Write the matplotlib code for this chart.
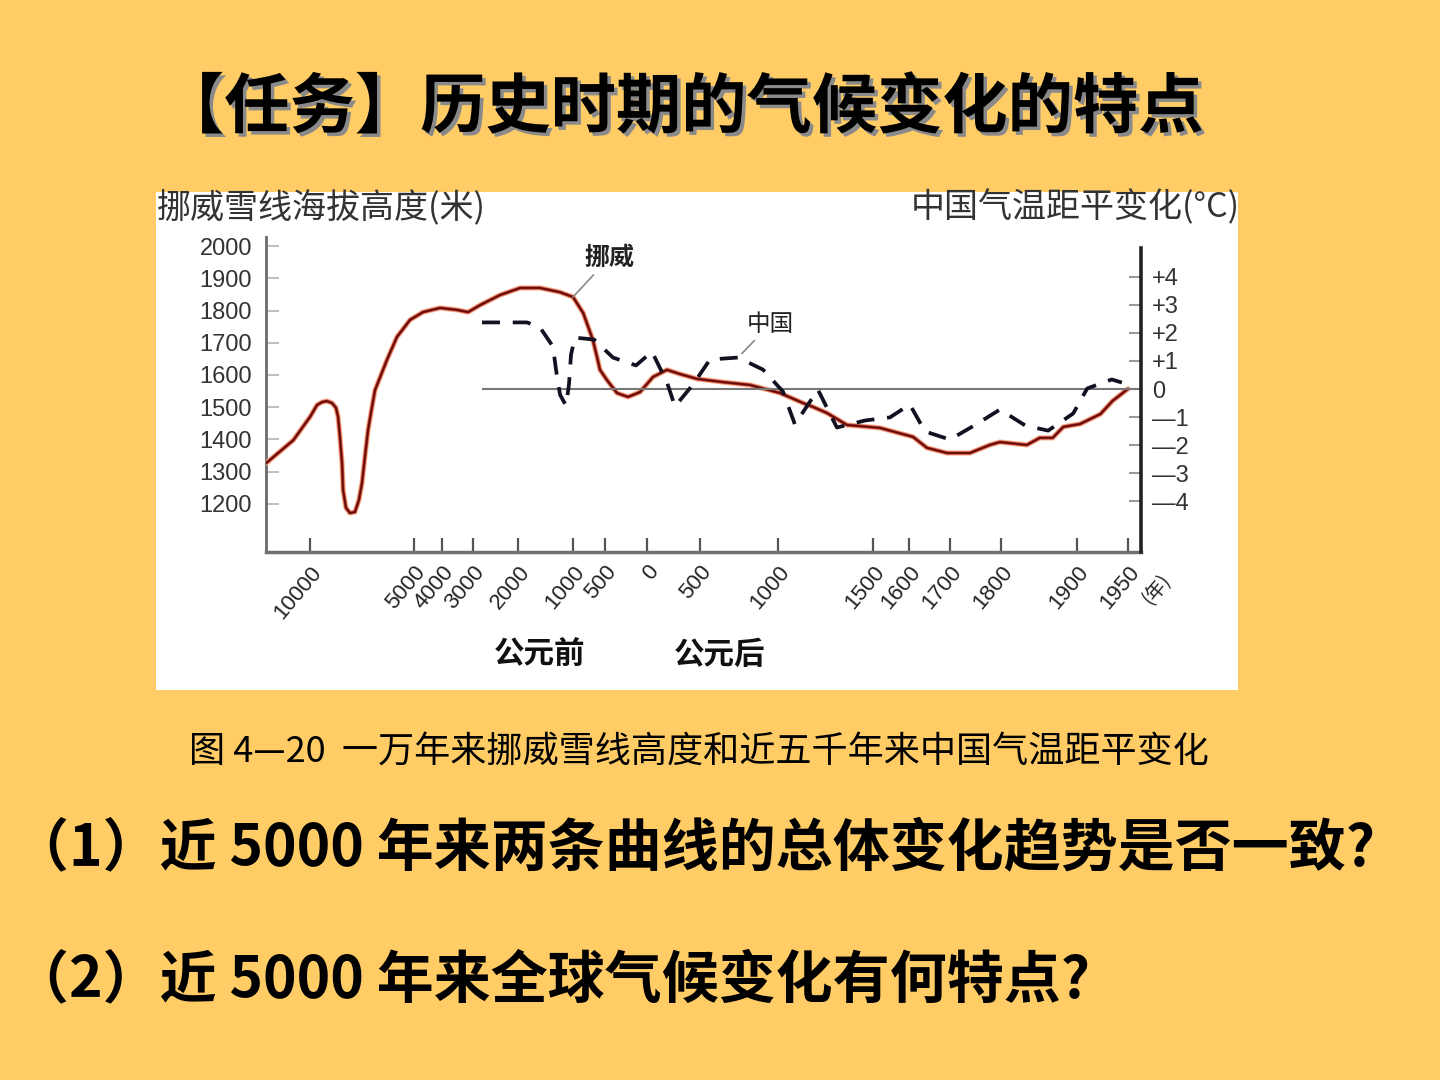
import numpy as np
import matplotlib
matplotlib.use('Agg')
import matplotlib.pyplot as plt
from matplotlib.patches import Rectangle
import matplotlib.patheffects as pe

CJK = ['Noto Sans CJK SC', 'DejaVu Sans']
NUM = ['Liberation Sans', 'Noto Sans CJK SC', 'DejaVu Sans']
plt.rcParams['font.family'] = CJK

# ---------------- data ----------------
NORWAY_YEARS = [-12100, -10800, -10000, -9660, -9420, -9180, -8940, -8750, -8650, -8560,
                -8460, -8410, -8270, -8080, -7840, -7650, -7500, -7360, -7210, -7020,
                -6875, -6300, -5820, -5190, -4680, -4070, -3520, -3160, -2840,
                -2400, -1960, -1600, -1240, -1000, -840, -690, -625, -578, -476,
                -357, -226, -83, 57, 189, 311, 472, 647, 821, 1011,
                1132, 1184, 1258, 1363, 1519, 1610, 1644, 1693, 1739, 1778,
                1798, 1834, 1851, 1868, 1882, 1903, 1923, 1935, 1950]
NORWAY_SNOWLINE_M = [1327, 1398, 1470, 1507, 1516, 1519, 1513, 1498, 1470, 1408,
                     1327, 1243, 1188, 1172, 1175, 1212, 1265, 1346, 1429, 1501,
                     1553, 1647, 1718, 1771, 1795, 1808, 1802, 1795, 1817,
                     1848, 1870, 1870, 1857, 1842, 1792, 1709, 1656, 1616, 1584,
                     1544, 1532, 1547, 1594, 1616, 1603, 1588, 1578, 1569, 1544,
                     1513, 1501, 1482, 1445, 1436, 1408, 1374, 1358, 1358, 1383,
                     1392, 1383, 1405, 1405, 1439, 1448, 1479, 1520, 1557]

CHINA_YEARS = [-2800, -1836, -1600, -1364, -1309, -1236, -1127, -1073, -1036, -969,
               -672, -405, -131, 47, 189, 264, 434, 564, 744, 904,
               1026, 1089, 1210, 1252, 1310, 1458, 1547, 1602, 1639, 1700,
               1751, 1798, 1832, 1862, 1895, 1910, 1934, 1944]
CHINA_ANOMALY_C = [2.37, 2.37, 2.19, 1.51, 0.69, -0.20, -0.59, 0.16, 1.23, 1.83,
                   1.76, 1.12, 0.84, 1.33, 0.23, -0.62, 0.16, 1.05, 1.12, 0.69,
                   -0.09, -1.26, -0.02, -0.59, -1.37, -1.12, -1.01, -0.55, -1.51, -1.80,
                   -1.26, -0.73, -1.30, -1.48, -0.87, 0.02, 0.34, 0.23]

X_TICK_YEARS = [-10000, -5000, -4000, -3000, -2000, -1000, -500, 0,
                500, 1000, 1500, 1600, 1700, 1800, 1900, 1950]
X_TICK_LABELS = ['10000', '5000', '4000', '3000', '2000', '1000', '500', '0',
                 '500', '1000', '1500', '1600', '1700', '1800', '1900', '1950']
LEFT_TICKS = [1200, 1300, 1400, 1500, 1600, 1700, 1800, 1900, 2000]
RIGHT_TICKS = [-4, -3, -2, -1, 0, 1, 2, 3, 4]
RIGHT_TICK_LABELS = ['—4', '—3', '—2', '—1', '0', '+1', '+2', '+3', '+4']
CHINA_START_YEAR = -2800

# ------------- warped time axis of the original drawing -------------
SCALE_YEARS = [-12115, -10000, -5000, -4000, -3000, -2000, -1000, -500, 0,
               500, 1000, 1500, 1600, 1700, 1800, 1900, 1950, 1963]
SCALE_UNITS = [0, 44, 148, 176, 207, 252, 307, 339, 381,
               434, 512, 607, 643, 684, 735, 811, 862, 875]


def fwd(x):
    return np.interp(x, SCALE_YEARS, SCALE_UNITS)


def inv(p):
    return np.interp(p, SCALE_UNITS, SCALE_YEARS)


BG = '#FFCC66'
W, H = 1440, 1080
fig = plt.figure(figsize=(14.4, 10.8), dpi=100, facecolor=BG)

# white picture panel (behind everything)
fig.patches.append(Rectangle((156 / W, 1 - 690 / H), 1082 / W, 498 / H,
                             transform=fig.transFigure, facecolor='white',
                             edgecolor='none', zorder=-5))

ax = fig.add_axes([266 / W, 1 - 552 / H, 875 / W, 315 / H])
ax.set_zorder(2)
ax.patch.set_visible(False)
ax.set_xscale('function', functions=(fwd, inv))
ax.set_xlim(SCALE_YEARS[0], SCALE_YEARS[-1])
ax.set_ylim(1051, 2028)

ax2 = ax.twinx()
ax2.set_zorder(3)
ax2.patch.set_visible(False)
ax2.set_ylim(-5.80, 5.41)

# spines
ax.spines['top'].set_visible(False)
ax2.spines['top'].set_visible(False)
ax2.spines['left'].set_visible(False)
ax2.spines['bottom'].set_visible(False)
ax.spines['right'].set_visible(False)
ax.spines['left'].set_color('#6a6a6a')
ax.spines['left'].set_linewidth(2.0)
ax.spines['bottom'].set_color('#707070')
ax.spines['bottom'].set_linewidth(2.5)
ax2.spines['right'].set_color('#222222')
ax2.spines['right'].set_linewidth(2.6)
ax2.spines['right'].set_bounds(-5.80, 5.02)

# ticks
ax.set_yticks(LEFT_TICKS)
ax.set_yticklabels([str(v) for v in LEFT_TICKS], family=NUM, fontsize=17, color='#333333')
ax.tick_params(axis='y', direction='in', length=9, width=1.3, color='#bbbbbb', pad=10)
ax.set_xticks(X_TICK_YEARS)
ax.set_xticklabels(X_TICK_LABELS, family=NUM, fontsize=16, color='#222222',
                   rotation=50, ha='right', va='top', rotation_mode='anchor')
ax.xaxis.set_minor_locator(matplotlib.ticker.NullLocator())
ax.tick_params(axis='x', direction='in', length=10, width=1.6, color='#555555', pad=7)

ax2.set_yticks(RIGHT_TICKS)
ax2.set_yticklabels(RIGHT_TICK_LABELS, family=NUM, fontsize=17, color='#333333')
ax2.tick_params(axis='y', direction='in', length=9, width=1.5, color='#999999', pad=8)

# zero reference line of the China series
ax2.hlines(0, CHINA_START_YEAR, SCALE_YEARS[-1], color='#777777', lw=1.5, zorder=2)

# Norway snow line (dark red core with light glow)
ax.plot(NORWAY_YEARS, NORWAY_SNOWLINE_M, color='#F4B898', lw=3.8,
        solid_joinstyle='round', solid_capstyle='round', zorder=3)
ax.plot(NORWAY_YEARS, NORWAY_SNOWLINE_M, color='#C63C2C', lw=2.4,
        solid_joinstyle='round', solid_capstyle='round', zorder=4)
ax.plot(NORWAY_YEARS, NORWAY_SNOWLINE_M, color='#5E0C0C', lw=1.3,
        solid_joinstyle='round', solid_capstyle='round', zorder=5)

# China temperature anomaly (dashed)
ax2.plot(CHINA_YEARS, CHINA_ANOMALY_C, color='#111122', lw=2.7,
         dashes=(4.8, 3.4), zorder=6)

# series labels with leader lines
i_nw = NORWAY_YEARS.index(-1000)
ax.annotate('挪威', xy=(NORWAY_YEARS[i_nw], NORWAY_SNOWLINE_M[i_nw]),
            xytext=(26, 28), textcoords='offset points', ha='center', va='center',
            fontsize=18, fontweight='bold', color='#222222',
            arrowprops=dict(arrowstyle='-', color='#888888', lw=1.2,
                            shrinkA=2, shrinkB=0), zorder=7)
i_cn = CHINA_YEARS.index(744)
ax2.annotate('中国', xy=(CHINA_YEARS[i_cn], CHINA_ANOMALY_C[i_cn]),
             xytext=(23, 24), textcoords='offset points', ha='center', va='center',
             fontsize=17, color='#222222',
             arrowprops=dict(arrowstyle='-', color='#888888', lw=1.2,
                             shrinkA=2, shrinkB=4), zorder=7)

# (年) after 1950
ax.annotate('(年)', xy=(X_TICK_YEARS[-1], 1051), xytext=(22, -13),
            textcoords='offset points', rotation=50, ha='right', va='top',
            rotation_mode='anchor', fontsize=14, color='#222222')

# axis titles
fig.text(157 / W, 1 - 208 / H, '挪威雪线海拔高度(米)', ha='left', va='center',
         fontsize=24.5, color='#333333')
fig.text(1240 / W, 1 - 208 / H, '中国气温距平变化(°C)', ha='right', va='center',
         fontsize=24.5, color='#333333')

# BC / AD
fig.text(540 / W, 1 - 655 / H, '公元前', ha='center', va='center',
         fontsize=22, fontweight='bold', color='#111111')
fig.text(720 / W, 1 - 655 / H, '公元后', ha='center', va='center',
         fontsize=22, fontweight='bold', color='#111111')

# slide title
fig.text(681 / W, 1 - 108 / H, '【任务】历史时期的气候变化的特点', ha='center', va='center',
         fontsize=47, fontweight='bold', color='black',
         path_effects=[pe.SimplePatchShadow(offset=(2.5, -2.5), shadow_rgbFace='#8a8a8a',
                                            alpha=1.0), pe.Normal()])

# caption
fig.text(699 / W, 1 - 752 / H, '图 4—20  一万年来挪威雪线高度和近五千年来中国气温距平变化',
         ha='center', va='center', fontsize=26, color='black')

# questions
fig.text(12 / W, 1 - 848 / H, '（1）近 5000 年来两条曲线的总体变化趋势是否一致?',
         ha='left', va='center', fontsize=41, fontweight='bold', color='black')
fig.text(12 / W, 1 - 980 / H, '（2）近 5000 年来全球气候变化有何特点?',
         ha='left', va='center', fontsize=41, fontweight='bold', color='black')

fig.savefig('out.png', dpi=100, facecolor=BG)
